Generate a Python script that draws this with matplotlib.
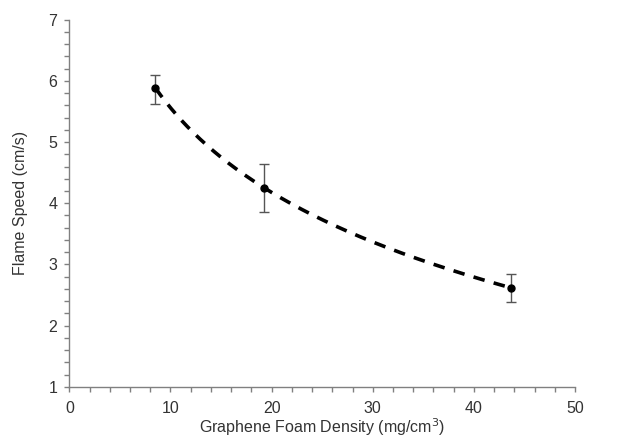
import numpy as np
import matplotlib
matplotlib.use("Agg")
import matplotlib.pyplot as plt
from matplotlib.ticker import MultipleLocator

plt.rcParams['font.family'] = ['Liberation Sans', 'DejaVu Sans']

density = [8.5, 19.2, 43.7]
speed = [5.89, 4.25, 2.62]
err_low = [0.26, 0.40, 0.23]
err_high = [0.21, 0.39, 0.22]

fig = plt.figure(figsize=(6.19, 4.38), dpi=100)
ax = fig.add_axes([0.112, 0.117, 0.817, 0.838])

# logarithmic trendline fitted to the data
coef = np.polyfit(np.log(density), speed, 1)
xs = np.linspace(min(density), max(density), 200)
ax.plot(xs, coef[0] * np.log(xs) + coef[1], color='black', lw=2.6,
        dashes=(3.2, 2.6), zorder=2)

ax.errorbar(density, speed, yerr=[err_low, err_high], fmt='o', color='black',
            ms=5, ecolor='#555555', elinewidth=1, capsize=3.5, capthick=1, zorder=3)

ax.set_xlim(0, 50)
ax.set_ylim(1, 7)
ax.xaxis.set_major_locator(MultipleLocator(10))
ax.xaxis.set_minor_locator(MultipleLocator(2))
ax.yaxis.set_major_locator(MultipleLocator(1))
ax.yaxis.set_minor_locator(MultipleLocator(0.2))

for s in ['top', 'right']:
    ax.spines[s].set_visible(False)
for s in ['left', 'bottom']:
    ax.spines[s].set_color('#808080')
    ax.spines[s].set_linewidth(1)

ax.tick_params(which='both', direction='out', length=3.6, width=1, color='#808080',
               labelsize=11.5, labelcolor='#333333')
ax.tick_params(axis='x', pad=6.5)
ax.tick_params(axis='y', pad=5)

ax.set_xlabel('Graphene Foam Density (mg/cm$^3$)', fontsize=11.5, color='#333333',
              va='center')
ax.set_ylabel('Flame Speed (cm/s)', fontsize=11.5, color='#333333', va='center')
ax.xaxis.set_label_coords(0.5, -0.1097)
ax.yaxis.set_label_coords(-0.0975, 0.5)

fig.savefig('out.png', dpi=100)
